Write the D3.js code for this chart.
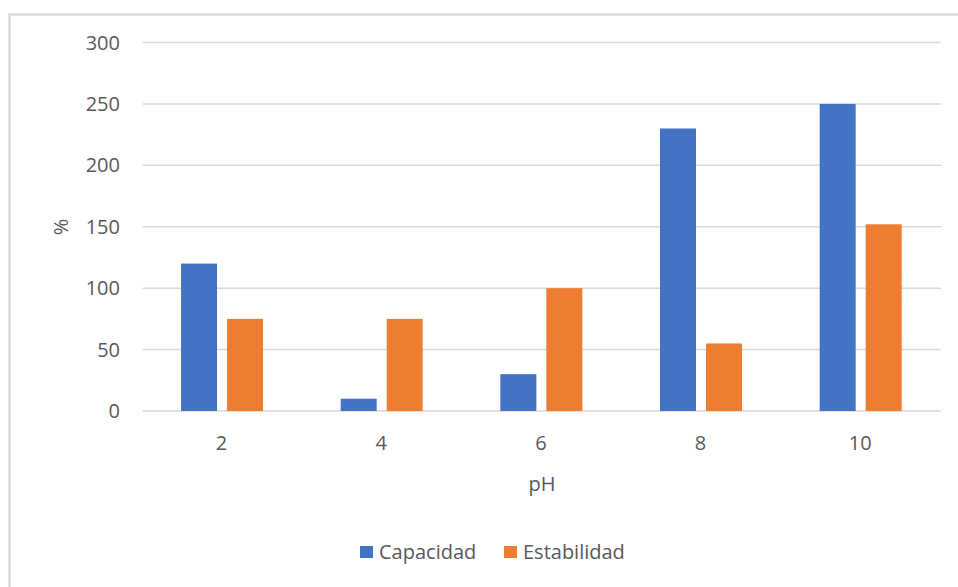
<!DOCTYPE html>
<html>
<head>
<meta charset="utf-8">
<script src="https://cdn.jsdelivr.net/npm/d3@7"></script>
<style>
  html, body { margin: 0; padding: 0; background: #fff; }
  svg { display: block; }
  text { font-family: "Open Sans", "Noto Sans", sans-serif; fill: #595959; }
</style>
</head>
<body>
<svg id="chart" width="958" height="587"></svg>
<script>
const categories = ["2", "4", "6", "8", "10"];
const seriesNames = ["Capacidad", "Estabilidad"];
const capacidad = [120, 10, 30, 230, 250];
const estabilidad = [75, 75, 100, 55, 152];
const yTicks = [0, 50, 100, 150, 200, 250, 300];
const colors = ["#4472C4", "#ED7D31"];

const seriesValues = [capacidad, estabilidad];
const svg = d3.select("#chart");

// outer chart border (extends past viewport on right/bottom)
svg.append("rect")
  .attr("x", 9.5).attr("y", 14.5)
  .attr("width", 1200).attr("height", 1000)
  .attr("fill", "none").attr("stroke", "#d9d9d9").attr("stroke-width", 2.5);

const x0 = d3.scaleBand().domain(categories).range([142.7, 941]).padding(0);
const x1 = d3.scaleBand().domain(seriesNames)
  .range([x0.bandwidth() / 2 - 41.5, x0.bandwidth() / 2 + 40.5])
  .paddingInner(0.2174).paddingOuter(0);
const y = d3.scaleLinear().domain([0, 300]).range([411, 42.5]);

// gridlines
const yAxis = d3.axisLeft(y).tickValues(yTicks).tickSize(0).tickPadding(0).tickFormat(d3.format("d"));
const gy = svg.append("g").call(yAxis);
gy.select(".domain").remove();
gy.selectAll("text").remove();

svg.append("g").selectAll("line").data(yTicks).join("line")
  .attr("x1", x0.range()[0]).attr("x2", x0.range()[1])
  .attr("y1", d => y(d)).attr("y2", d => y(d))
  .attr("stroke", "#d9d9d9").attr("stroke-width", 1.5);

// y tick labels
svg.append("g").selectAll("text").data(yTicks).join("text")
  .attr("x", 120).attr("y", d => y(d))
  .attr("dy", "0.35em")
  .attr("text-anchor", "end")
  .style("font-size", "20px")
  .text(d => d3.format("d")(d));

// bars
const groups = svg.append("g").selectAll("g").data(categories).join("g")
  .attr("transform", c => `translate(${x0(c)},0)`);
groups.selectAll("rect")
  .data((c, i) => seriesNames.map((s, j) => ({ s, j, v: seriesValues[j][i] })))
  .join("rect")
  .attr("x", d => x1(d.s))
  .attr("width", x1.bandwidth())
  .attr("y", d => y(d.v))
  .attr("height", d => y(0) - y(d.v))
  .attr("fill", d => colors[d.j]);

// x tick labels
const xAxis = d3.axisBottom(x0).tickSize(0);
svg.append("g").selectAll("text").data(categories).join("text")
  .attr("x", c => x0(c) + x0.bandwidth() / 2 - 1)
  .attr("y", 443)
  .attr("dy", "0.35em")
  .attr("text-anchor", "middle")
  .style("font-size", "20px")
  .text(c => c);

// axis titles
svg.append("text")
  .attr("x", 542).attr("y", 484).attr("dy", "0.35em")
  .attr("text-anchor", "middle").style("font-size", "20px").text("pH");
svg.append("text")
  .attr("transform", "translate(61,227) rotate(-90)")
  .attr("dy", "0.35em")
  .attr("text-anchor", "middle").style("font-size", "20px").text("%");

// legend
const legendItems = [{ name: "Capacidad", x: 360 }, { name: "Estabilidad", x: 504 }];
const lg = svg.append("g").selectAll("g").data(legendItems).join("g")
  .attr("transform", d => `translate(${d.x},546)`);
lg.append("rect").attr("width", 13).attr("height", 12)
  .attr("fill", (d, i) => colors[i]);
lg.append("text").attr("x", 19).attr("y", 6).attr("dy", "0.35em")
  .style("font-size", "20px").text(d => d.name);
</script>
</body>
</html>
